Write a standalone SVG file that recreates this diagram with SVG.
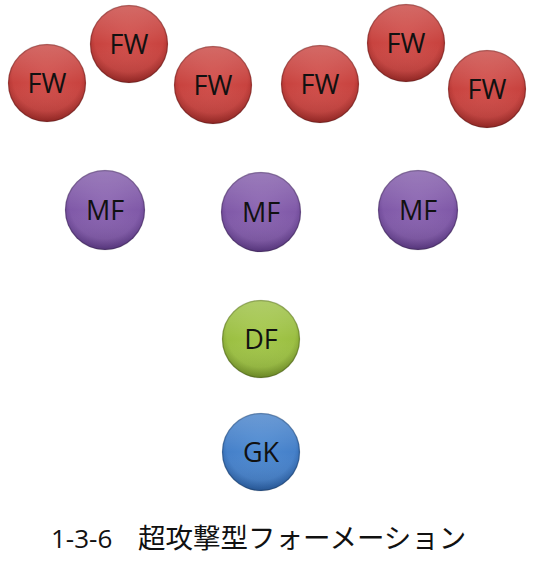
<svg xmlns="http://www.w3.org/2000/svg" width="533" height="576" viewBox="0 0 533 576">
<style>
.lbl{font-family:"Open Sans","Liberation Sans",sans-serif;font-size:27px;fill:#111;text-anchor:middle}
.rim{fill:none;stroke:#000;stroke-opacity:0.18;stroke-width:1.5}
.title{font-family:"Open Sans","Noto Sans CJK JP",sans-serif;font-size:26px;fill:#111}
</style>
<defs>
<radialGradient id="gr" cx="50%" cy="42%" r="55%"><stop offset="0" stop-color="#d2504c"/><stop offset="0.8" stop-color="#c8433f"/><stop offset="1" stop-color="#a92f2c"/></radialGradient>
<radialGradient id="gp" cx="50%" cy="42%" r="55%"><stop offset="0" stop-color="#8c66b2"/><stop offset="0.8" stop-color="#8059a8"/><stop offset="1" stop-color="#664190"/></radialGradient>
<radialGradient id="gg" cx="50%" cy="42%" r="55%"><stop offset="0" stop-color="#a5c84c"/><stop offset="0.8" stop-color="#9bbf42"/><stop offset="1" stop-color="#7e9f2e"/></radialGradient>
<radialGradient id="gb" cx="50%" cy="42%" r="55%"><stop offset="0" stop-color="#4f8bd2"/><stop offset="0.8" stop-color="#4580c9"/><stop offset="1" stop-color="#2f66ad"/></radialGradient>
<linearGradient id="hl" x1="0" y1="0" x2="0" y2="1"><stop offset="0" stop-color="#fff" stop-opacity="0.2"/><stop offset="0.5" stop-color="#fff" stop-opacity="0"/><stop offset="1" stop-color="#000" stop-opacity="0.12"/></linearGradient>
</defs>
<rect width="533" height="576" fill="#fff"/>
<g id="fw1"><circle cx="47" cy="83" r="39" fill="url(#gr)"/><circle cx="47" cy="83" r="39" fill="url(#hl)"/><circle cx="47" cy="83" r="38.5" class="rim"/><text x="47" y="93" class="lbl">FW</text></g>
<g id="fw2"><circle cx="129" cy="44" r="39" fill="url(#gr)"/><circle cx="129" cy="44" r="39" fill="url(#hl)"/><circle cx="129" cy="44" r="38.5" class="rim"/><text x="129" y="54" class="lbl">FW</text></g>
<g id="fw3"><circle cx="213" cy="85" r="39" fill="url(#gr)"/><circle cx="213" cy="85" r="39" fill="url(#hl)"/><circle cx="213" cy="85" r="38.5" class="rim"/><text x="213" y="95" class="lbl">FW</text></g>
<g id="fw4"><circle cx="320" cy="84" r="39" fill="url(#gr)"/><circle cx="320" cy="84" r="39" fill="url(#hl)"/><circle cx="320" cy="84" r="38.5" class="rim"/><text x="320" y="94" class="lbl">FW</text></g>
<g id="fw5"><circle cx="406" cy="43" r="39" fill="url(#gr)"/><circle cx="406" cy="43" r="39" fill="url(#hl)"/><circle cx="406" cy="43" r="38.5" class="rim"/><text x="406" y="53" class="lbl">FW</text></g>
<g id="fw6"><circle cx="487" cy="89" r="39" fill="url(#gr)"/><circle cx="487" cy="89" r="39" fill="url(#hl)"/><circle cx="487" cy="89" r="38.5" class="rim"/><text x="487" y="99" class="lbl">FW</text></g>
<g id="mf1"><circle cx="105" cy="210" r="40" fill="url(#gp)"/><circle cx="105" cy="210" r="40" fill="url(#hl)"/><circle cx="105" cy="210" r="39.5" class="rim"/><text x="105" y="220" class="lbl">MF</text></g>
<g id="mf2"><circle cx="261" cy="212" r="40" fill="url(#gp)"/><circle cx="261" cy="212" r="40" fill="url(#hl)"/><circle cx="261" cy="212" r="39.5" class="rim"/><text x="261" y="222" class="lbl">MF</text></g>
<g id="mf3"><circle cx="418" cy="210" r="40" fill="url(#gp)"/><circle cx="418" cy="210" r="40" fill="url(#hl)"/><circle cx="418" cy="210" r="39.5" class="rim"/><text x="418" y="220" class="lbl">MF</text></g>
<g id="df"><circle cx="261" cy="339" r="39" fill="url(#gg)"/><circle cx="261" cy="339" r="39" fill="url(#hl)"/><circle cx="261" cy="339" r="38.5" class="rim"/><text x="261" y="349" class="lbl">DF</text></g>
<g id="gk"><circle cx="261" cy="452" r="39" fill="url(#gb)"/><circle cx="261" cy="452" r="39" fill="url(#hl)"/><circle cx="261" cy="452" r="38.5" class="rim"/><text x="261" y="462" class="lbl">GK</text></g>
<g id="connectors"/>
<g id="caption"><text y="548" class="title"><tspan x="51">1-3-6</tspan><tspan x="138" font-size="27.5px" font-family="'Noto Sans CJK JP',sans-serif">超攻撃型フォーメーション</tspan></text></g>
</svg>
